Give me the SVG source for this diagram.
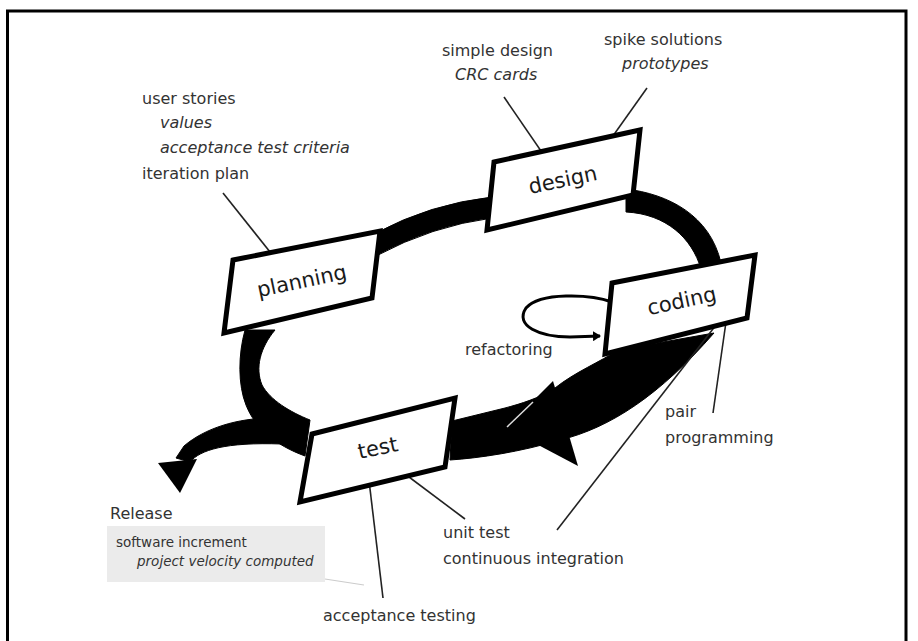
<svg xmlns="http://www.w3.org/2000/svg" width="918" height="641" viewBox="0 0 918 641">
<defs>
<style>
.lbl{font-family:"DejaVu Sans","Liberation Sans",sans-serif;font-size:16px;fill:#333}
.it{font-style:italic}
.sm{font-size:13.5px}
.box{fill:#fff;stroke:#000;stroke-width:5;stroke-linejoin:miter}
.btxt{font-family:"DejaVu Sans","Liberation Sans",sans-serif;font-size:21px;fill:#1a1a1a;text-anchor:middle}
.band{fill:#000;stroke:#000;stroke-width:1}
.lead{stroke:#222;stroke-width:1.6;fill:none}
</style>
<marker id="ah" markerWidth="10" markerHeight="10" refX="7" refY="5" orient="auto" markerUnits="userSpaceOnUse">
<path d="M0,0 L8,5 L0,10 Z" fill="#000"/>
</marker>
</defs>
<rect width="918" height="641" fill="#fff"/>
<path d="M7.5,641 V11 H906 V641" fill="none" stroke="#000" stroke-width="3"/>

<g id="connectors">
<!-- planning -> design -->
<path class="band" d="M376,233 Q430,204 492,197 L492,218 Q432,226 376,256 Z"/>
<!-- design -> coding -->
<path class="band" d="M626,189 C668,194 710,215 721,263 L701,269 C692,238 666,214 626,212 Z"/>
<!-- coding -> test -->
<path class="band" d="M618,350 C600,362 575,372 555,388 C540,398 520,404 505,408 L452,421 L450,460 C480,458 520,452 560,440 C610,428 660,395 714,333 Z"/>
<polygon points="506,428 553,381 578,466" fill="#000"/>
<line x1="507" y1="427" x2="533" y2="402" stroke="#ddd" stroke-width="1.5"/>
<!-- test -> planning -->
<path class="band" d="M245,330 C238,355 238,385 246,405 C255,428 275,445 305,456 L310,420 C290,412 270,400 262,385 C255,368 260,348 275,330 Z"/>
<!-- release branch -->
<path class="band" d="M272,418 C238,418 205,428 184,446 L176,458 L190,462 C200,450 225,442 282,444 Z"/>
<polygon points="158,463 197,459 180,493" fill="#000"/>
<!-- refactoring loop -->
<path d="M612,302 C590,294 540,292 526,308 C514,326 540,337 570,337 L600,336" fill="none" stroke="#000" stroke-width="3" marker-end="url(#ah)"/>
<!-- leader lines -->
<line class="lead" x1="223" y1="193" x2="282" y2="267"/>
<line class="lead" x1="504" y1="97" x2="552" y2="167"/>
<line class="lead" x1="647" y1="88" x2="598" y2="157"/>
<line class="lead" x1="713" y1="413" x2="727" y2="315"/>
<line class="lead" x1="557" y1="530" x2="723" y2="316"/>
<line class="lead" x1="397" y1="468" x2="465" y2="519"/>
<line class="lead" x1="368" y1="472" x2="383" y2="598"/>
<line x1="325" y1="579" x2="364" y2="585" stroke="#ccc" stroke-width="1.2"/>
</g>

<g id="planning">
<polygon class="box" points="233,260 380,231 372,298 224,333"/>
<text class="btxt" transform="translate(302,282) rotate(-12)" y="6">planning</text>
</g>
<g id="design">
<polygon class="box" points="494,162 640,130 633,195 487,230"/>
<text class="btxt" transform="translate(563,181) rotate(-12)" y="6">design</text>
</g>
<g id="coding">
<polygon class="box" points="612,283 755,255 747,318 605,354"/>
<text class="btxt" transform="translate(682,302) rotate(-12)" y="6">coding</text>
</g>
<g id="test">
<polygon class="box" points="312,434 455,398 445,467 300,502"/>
<text class="btxt" transform="translate(378,449) rotate(-12)" y="6">test</text>
</g>

<g id="planning-notes">
<text class="lbl" x="142" y="104">user stories</text>
<text class="lbl it" x="160" y="128">values</text>
<text class="lbl it" x="160" y="153">acceptance test criteria</text>
<text class="lbl" x="142" y="179">iteration plan</text>
</g>
<g id="design-notes">
<text class="lbl" x="442" y="56">simple design</text>
<text class="lbl it" x="455" y="80">CRC cards</text>
<text class="lbl" x="604" y="45">spike solutions</text>
<text class="lbl it" x="622" y="69">prototypes</text>
</g>
<g id="coding-notes">
<text class="lbl" x="465" y="355">refactoring</text>
<text class="lbl" x="665" y="417">pair</text>
<text class="lbl" x="665" y="443">programming</text>
</g>
<g id="test-notes">
<text class="lbl" x="443" y="538">unit test</text>
<text class="lbl" x="443" y="564">continuous integration</text>
<text class="lbl" x="323" y="621">acceptance testing</text>
</g>
<g id="release">
<text class="lbl" x="110" y="519">Release</text>
<rect x="107" y="526" width="218" height="56" fill="#ebebeb"/>
<text class="lbl sm" x="116" y="547">software increment</text>
<text class="lbl sm it" x="137" y="566">project velocity computed</text>
</g>
</svg>
